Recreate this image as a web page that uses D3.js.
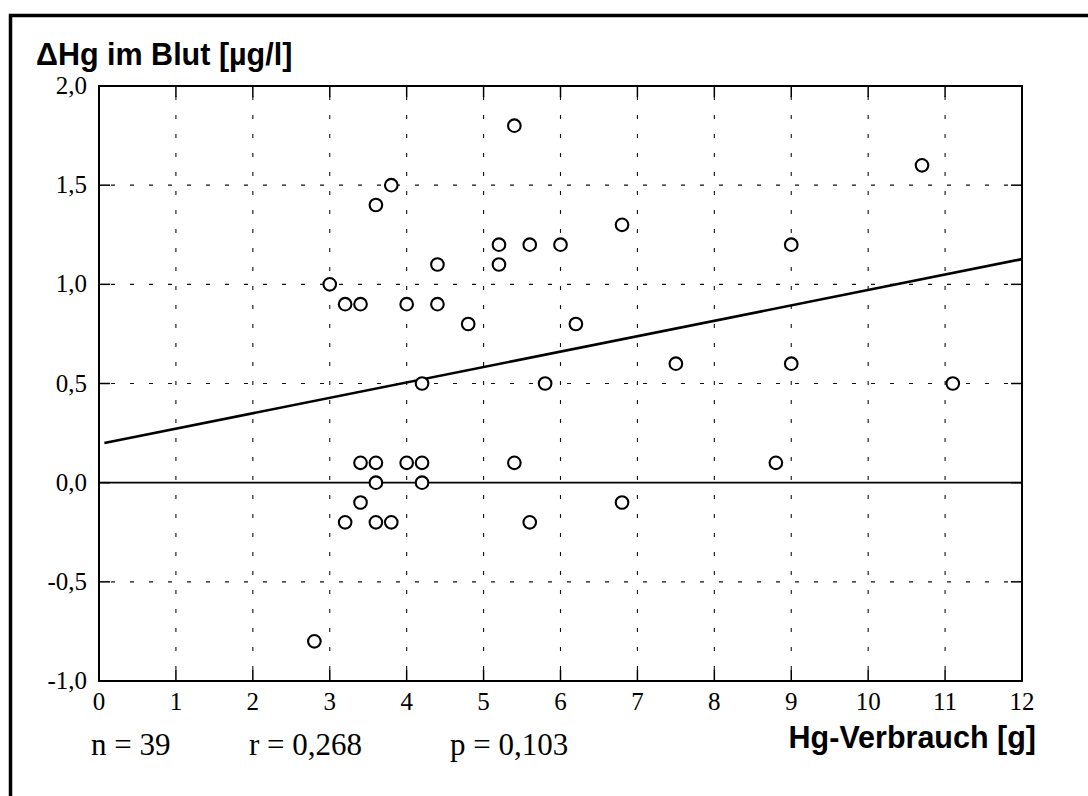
<!DOCTYPE html>
<html>
<head>
<meta charset="utf-8">
<script src="https://cdn.jsdelivr.net/npm/d3@7"></script>
<style>
  body { margin: 0; background: #fff; }
  svg { display: block; }
</style>
</head>
<body>
<div id="chart"></div>
<script>
// data
var hgUsed = [2.8, 3.0, 3.2, 3.4, 3.2, 3.4, 3.4, 3.6, 3.6, 3.6, 3.8, 3.6, 3.8,
  4.0, 4.0, 4.2, 4.2, 4.2, 4.4, 4.4, 4.8, 5.2, 5.2, 5.4, 5.4, 5.6, 5.6, 5.8,
  6.0, 6.2, 6.8, 6.8, 7.5, 8.8, 9.0, 9.0, 10.7, 11.1];
var deltaHg = [-0.8, 1.0, 0.9, 0.9, -0.2, -0.1, 0.1, 0.1, 0.0, -0.2, -0.2, 1.4, 1.5,
  0.9, 0.1, 0.1, 0.0, 0.5, 1.1, 0.9, 0.8, 1.2, 1.1, 1.8, 0.1, 1.2, -0.2, 0.5,
  1.2, 0.8, 1.3, -0.1, 0.6, 0.1, 1.2, 0.6, 1.6, 0.5];
var fitX = [0.07, 12];
var fitY = [0.2, 1.127];
var xTicks = d3.range(0, 13);
var yTicks = [-1.0, -0.5, 0.0, 0.5, 1.0, 1.5, 2.0];
var stats = ["n = 39", "r = 0,268", "p = 0,103"];

var width = 1088, height = 796;
var plot = { left: 99, right: 1022, top: 86, bottom: 681 };

var svg = d3.select("#chart").append("svg")
  .attr("width", width)
  .attr("height", height);

var x = d3.scaleLinear().domain([0, 12]).range([plot.left, plot.right]);
var y = d3.scaleLinear().domain([-1, 2]).range([plot.bottom, plot.top]);
var fmt = function (v) { return d3.format(".1f")(v).replace(".", ",").replace("−", "-"); };

// outer frame (only top and left edges visible)
svg.append("path")
  .attr("d", "M10.5," + height + " V15.5 H" + width)
  .attr("fill", "none")
  .attr("stroke", "#000")
  .attr("stroke-width", 3.5);

// dashed grid
var grid = svg.append("g");
grid.selectAll("line.vg")
  .data(xTicks.filter(function (d) { return d > 0 && d < 12; }))
  .join("line")
  .attr("class", "vg")
  .attr("x1", function (d) { return x(d); })
  .attr("x2", function (d) { return x(d); })
  .attr("y1", plot.top)
  .attr("y2", plot.bottom)
  .attr("stroke", "#111")
  .attr("stroke-width", 1.1)
  .attr("stroke-dasharray", "4,15")
  .attr("stroke-dashoffset", -10);

grid.selectAll("line.hg")
  .data(yTicks.filter(function (d) { return d !== 0 && d > -1 && d < 2; }))
  .join("line")
  .attr("class", "hg")
  .attr("x1", plot.left)
  .attr("x2", plot.right)
  .attr("y1", function (d) { return y(d); })
  .attr("y2", function (d) { return y(d); })
  .attr("stroke", "#111")
  .attr("stroke-width", 1.1)
  .attr("stroke-dasharray", "4,15")
  .attr("stroke-dashoffset", -12);

// zero line
svg.append("line")
  .attr("x1", plot.left).attr("x2", plot.right)
  .attr("y1", y(0)).attr("y2", y(0))
  .attr("stroke", "#000")
  .attr("stroke-width", 1.6);

// inward ticks on all four sides
var tk = 11;
var ticks = svg.append("g").attr("stroke", "#000").attr("stroke-width", 1.5);
xTicks.forEach(function (d) {
  ticks.append("line").attr("x1", x(d)).attr("x2", x(d)).attr("y1", plot.bottom).attr("y2", plot.bottom - tk);
  ticks.append("line").attr("x1", x(d)).attr("x2", x(d)).attr("y1", plot.top).attr("y2", plot.top + tk);
});
yTicks.forEach(function (d) {
  ticks.append("line").attr("x1", plot.left).attr("x2", plot.left + tk).attr("y1", y(d)).attr("y2", y(d));
  ticks.append("line").attr("x1", plot.right).attr("x2", plot.right - tk).attr("y1", y(d)).attr("y2", y(d));
});

// plot frame
svg.append("rect")
  .attr("x", plot.left).attr("y", plot.top)
  .attr("width", plot.right - plot.left)
  .attr("height", plot.bottom - plot.top)
  .attr("fill", "none")
  .attr("stroke", "#000")
  .attr("stroke-width", 2);

// regression line
svg.append("line")
  .attr("x1", x(fitX[0])).attr("y1", y(fitY[0]))
  .attr("x2", x(fitX[1])).attr("y2", y(fitY[1]))
  .attr("stroke", "#000")
  .attr("stroke-width", 2.6);

// points
svg.append("g").selectAll("circle")
  .data(d3.zip(hgUsed, deltaHg))
  .join("circle")
  .attr("cx", function (d) { return x(d[0]); })
  .attr("cy", function (d) { return y(d[1]); })
  .attr("r", 6.3)
  .attr("fill", "#fff")
  .attr("stroke", "#000")
  .attr("stroke-width", 2.1);

// tick labels
var serif = "'Liberation Serif', 'Times New Roman', serif";
var sans = "'Liberation Sans', Arial, sans-serif";

svg.append("g").selectAll("text")
  .data(xTicks)
  .join("text")
  .attr("x", function (d) { return x(d); })
  .attr("y", 710)
  .attr("text-anchor", "middle")
  .attr("font-family", serif)
  .attr("font-size", 25)
  .text(function (d) { return d; });

svg.append("g").selectAll("text")
  .data(yTicks)
  .join("text")
  .attr("x", 87)
  .attr("y", function (d) { return y(d) + 8; })
  .attr("text-anchor", "end")
  .attr("font-family", serif)
  .attr("font-size", 25)
  .text(function (d) { return fmt(d); });

// axis titles
svg.append("text")
  .attr("x", 36)
  .attr("y", 65)
  .attr("font-family", sans)
  .attr("font-weight", "bold")
  .attr("font-size", 30.5)
  .text("\u0394Hg im Blut [\u00b5g/l]");

svg.append("text")
  .attr("x", 1036)
  .attr("y", 748)
  .attr("text-anchor", "end")
  .attr("font-family", sans)
  .attr("font-weight", "bold")
  .attr("font-size", 30.5)
  .text("Hg-Verbrauch [g]");

// stats line
var statX = [91, 249, 450];
svg.append("g").selectAll("text")
  .data(stats)
  .join("text")
  .attr("x", function (d, i) { return statX[i]; })
  .attr("y", 755)
  .attr("font-family", serif)
  .attr("font-size", 31)
  .text(function (d) { return d; });
</script>
</body>
</html>
